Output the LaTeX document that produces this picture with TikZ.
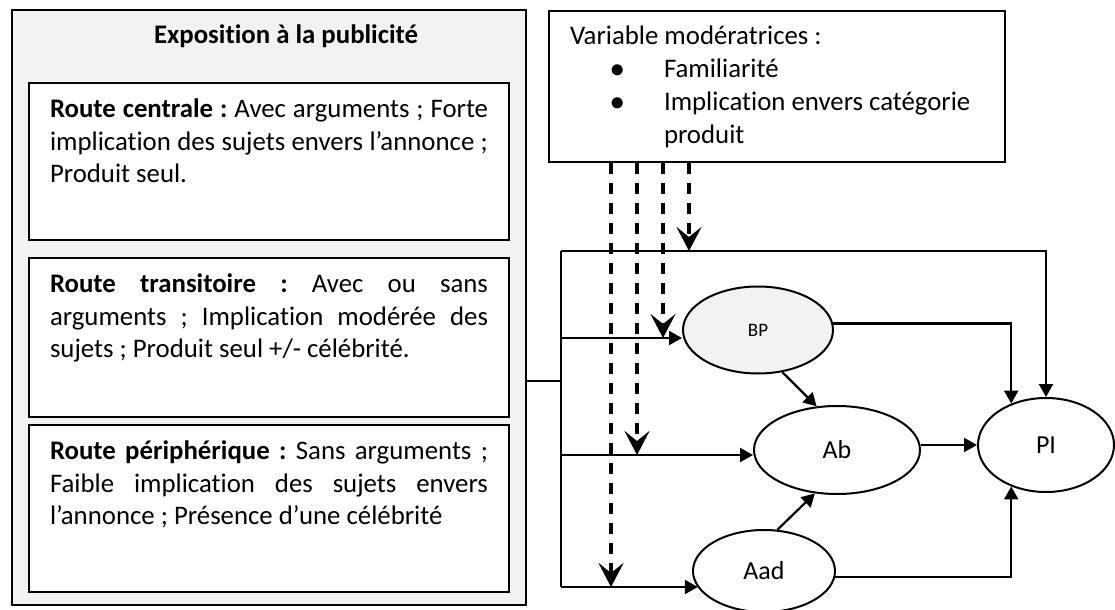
\documentclass[tikz,border=0pt]{standalone}
\usepackage{fontspec}
\setmainfont{Carlito}[Ligatures={NoCommon}]
\usetikzlibrary{arrows.meta, shapes.geometric}
\definecolor{panelgray}{HTML}{F2F2F2}
\frenchspacing

% text block of a route box: fixed height, first line at the top
\newcommand{\routetext}[2]{\parbox[t][#1][t]{219pt}{\strut #2}}

\begin{document}
\begin{tikzpicture}[x=0.5pt, y=-0.5pt, font=\fontsize{13.4}{16.25}\selectfont,
  box/.style={draw, line width=1pt, fill=white, anchor=north west, inner xsep=10.5pt, inner ysep=6pt},
  var/.style={draw, ellipse, line width=1pt, fill=white, inner sep=0pt},
  link/.style={line width=1.1pt},
  arr/.style={line width=1.1pt, -{Triangle[length=6.5pt, width=7pt]}},
  modarr/.style={line width=1.6pt, dash pattern=on 5.5pt off 4.5pt, -{Stealth[length=12pt, width=12.5pt, inset=5pt]}}]
  \useasboundingbox (0,0) rectangle (1115,610);

  % Left panel: exposure to the ad
  \node[draw, line width=1pt, fill=panelgray, anchor=north west, inner sep=0pt,
        minimum width=257pt, minimum height=297.5pt] (expo) at (11,9) {};
  \node[anchor=base, font=\fontsize{13.4}{16.25}\selectfont\bfseries] (titre) at (286,44) {Exposition à la publicité};

  \node[box] (central) at (28,82) {\routetext{66.5pt}{\textbf{Route centrale~:} Avec arguments ; Forte\linebreak
    implication des sujets envers l’annonce~;\linebreak Produit seul.}};
  \node[box] (transit) at (28,257) {\routetext{67.5pt}{\textbf{Route transitoire~:} Avec ou sans\linebreak
    arguments ; Implication modérée des\linebreak sujets ; Produit seul +/- célébrité.}};
  \node[box] (periph) at (28,424) {\routetext{71.5pt}{\textbf{Route périphérique~:} Sans arguments~;\linebreak
    Faible implication des sujets envers\linebreak l’annonce ; Présence d’une célébrité}};

  % Moderators
  \node[box, inner ysep=5pt] (moder) at (548,10) {\parbox[t][65.5pt][t]{207pt}{\fontsize{13.4}{16.6}\selectfont
    \strut Variable modératrices :\par
    \hspace*{20pt}\makebox[27pt][l]{$\bullet$}Familiarité\par
    \hspace*{20pt}\makebox[27pt][l]{$\bullet$}Implication envers catégorie\par
    \hspace*{47pt}produit}};

  % Variables
  \node[var, fill=panelgray, minimum width=75pt, minimum height=43.5pt, font=\fontsize{9.5}{11}\selectfont] (BP) at (758,330) {BP};
  \node[var, minimum width=83pt, minimum height=44pt, font=\fontsize{13}{15}\selectfont] (Ab) at (837,450) {Ab};
  \node[var, minimum width=68pt, minimum height=47pt, font=\fontsize{13}{15}\selectfont] (PI) at (1046,445) {PI};
  \node[var, minimum width=71pt, minimum height=41pt, font=\fontsize{13}{15}\selectfont] (Aad) at (764,571) {Aad};

  % Frame of the model
  \coordinate (tl) at (561,251);
  \coordinate (tr) at (1046,251);
  \coordinate (jin) at (561,381);
  \coordinate (lBP) at (561,338);
  \coordinate (lAb) at (561,455);
  \coordinate (lAad) at (561,587);

  \draw[link] (jin -| expo.east) -- (jin);
  \draw[link] (lAad) -- (tl);
  \draw[arr] (tl) -- (tr) -- (PI.north);
  \draw[arr] (lBP) -- (lBP -| BP.west);
  \draw[arr] (lAb) -- (lAb -| Ab.west);
  \draw[arr] (lAad) -- (lAad -| Aad.194);

  % Paths between variables
  \draw[arr] (BP.-60) -- (Ab.115);
  \draw[arr] (Aad.72) -- (Ab.243);
  \draw[arr] (Ab.east |- PI.west) -- (PI.west);
  \draw[arr] (BP.5) -| (PI.130);
  \draw[arr] (Aad.-5) -| (PI.230);

  % Moderating effects
  \foreach \x/\tgt in {611/lAad, 637/lAb, 663/lBP, 689/tl}
    \draw[modarr] (moder.south -| \x,0) -- (\x,0 |- \tgt);
\end{tikzpicture}
\end{document}
